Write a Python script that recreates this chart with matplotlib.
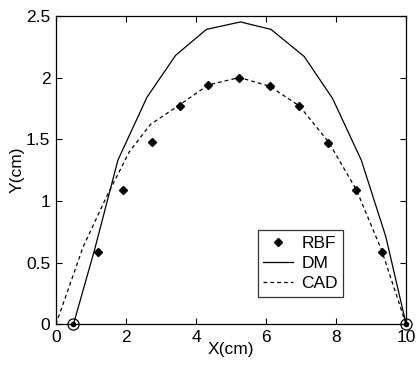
import matplotlib
matplotlib.use("Agg")
import matplotlib.pyplot as plt

plt.rcParams['font.family'] = ['Liberation Sans', 'DejaVu Sans']

rbf_x = [1.19, 1.92, 2.73, 3.53, 4.34, 5.24, 6.1, 6.95, 7.78, 8.58, 9.3]
rbf_y = [0.59, 1.09, 1.48, 1.77, 1.94, 2.0, 1.93, 1.77, 1.47, 1.09, 0.59]

dm_x = [0.5, 1.1, 1.77, 2.6, 3.42, 4.3, 5.27, 6.14, 7.09, 7.9, 8.72, 9.42, 10.0]
dm_y = [0.0, 0.6, 1.33, 1.84, 2.18, 2.39, 2.45, 2.39, 2.17, 1.83, 1.33, 0.71, 0.0]

cad_x = [0.0, 0.78, 1.49, 2.1, 2.7, 3.54, 4.35, 5.24, 6.1, 6.95, 7.78, 8.58, 9.3, 10.0]
cad_y = [0.0, 0.63, 1.06, 1.4, 1.62, 1.78, 1.94, 2.0, 1.93, 1.77, 1.48, 1.09, 0.6, 0.0]

end_x = [0.5, 10.0]
end_y = [0.0, 0.0]

xticks = [0, 2, 4, 6, 8, 10]
yticks = [0, 0.5, 1, 1.5, 2, 2.5]
yticklabels = ['0', '0.5', '1', '1.5', '2', '2.5']

fig = plt.figure(figsize=(4.17, 3.67), dpi=100)
ax = fig.add_axes([0.134, 0.116, 0.840, 0.841])

ax.plot(rbf_x, rbf_y, linestyle='none', marker='D', markersize=4, color='black', label='RBF')
ax.plot(dm_x, dm_y, '-', color='black', linewidth=0.9, label='DM')
ax.plot(cad_x, cad_y, '--', color='black', linewidth=0.9, dashes=(3, 2.5), label='CAD')
ax.plot(end_x, end_y, linestyle='none', marker='o', markersize=8, markerfacecolor='none',
        markeredgecolor='black', markeredgewidth=0.9, clip_on=False)
ax.plot(end_x, end_y, linestyle='none', marker='o', markersize=3, color='black', clip_on=False)

ax.set_xlim(0, 10)
ax.set_ylim(0, 2.5)
ax.set_xticks(xticks)
ax.set_yticks(yticks)
ax.set_yticklabels(yticklabels)
ax.tick_params(direction='in', top=True, right=True, length=4, width=0.8, labelsize=12.5, pad=4)
for s in ax.spines.values():
    s.set_linewidth(0.9)

ax.set_xlabel('X(cm)', fontsize=12.5, labelpad=-2)
ax.set_ylabel('Y(cm)', fontsize=12.5, labelpad=1)

leg = ax.legend(loc='lower left', bbox_to_anchor=(0.577, 0.09), fontsize=12.5, frameon=True,
                fancybox=False, edgecolor='black', handlelength=1.7, borderpad=0.3,
                labelspacing=0.3, handletextpad=0.5, borderaxespad=0)
leg.get_frame().set_linewidth(0.9)

fig.savefig('out.png', dpi=100)
